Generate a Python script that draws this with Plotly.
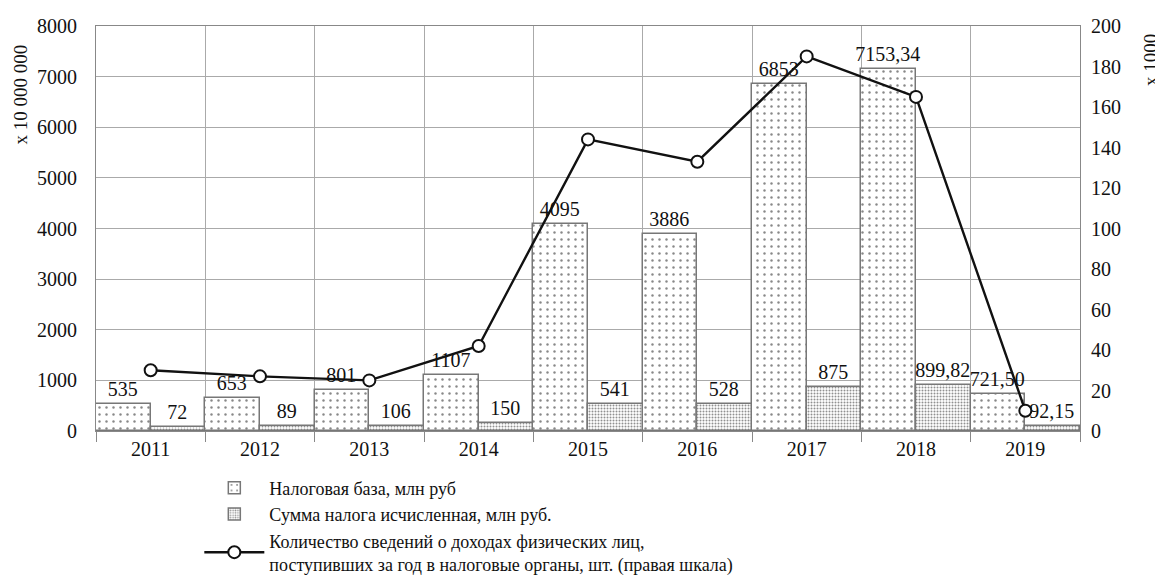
import plotly.graph_objects as go

years = ["2011", "2012", "2013", "2014", "2015", "2016", "2017", "2018", "2019"]
tax_base = [535, 653, 801, 1107, 4095, 3886, 6853, 7153.34, 721.50]
tax_base_labels = ["535", "653", "801", "1107", "4095", "3886", "6853", "7153,34", "721,50"]
tax_sum = [72, 89, 106, 150, 541, 528, 875, 899.82, 92.15]
tax_sum_labels = ["72", "89", "106", "150", "541", "528", "875", "899,82", "92,15"]
reports = [30, 27, 25, 42, 144, 133, 185, 165, 10]

pos = list(range(len(years)))
FONT = "Liberation Serif, Times New Roman, serif"

fig = go.Figure()
fig.add_trace(go.Bar(
    x=pos, y=tax_base, name="Налоговая база, млн руб",
    text=tax_base_labels, textposition="outside", cliponaxis=False, constraintext="none",
    textfont=dict(family=FONT, size=20, color="#111"),
    marker=dict(color="white", line=dict(color="#777", width=1.5),
                pattern=dict(shape=".", size=7, solidity=0.1, fgcolor="#111", bgcolor="white")),
    offsetgroup="a",
))
fig.add_trace(go.Bar(
    x=pos, y=tax_sum, name="Сумма налога исчисленная, млн руб.",
    text=tax_sum_labels, textposition="outside", cliponaxis=False, constraintext="none",
    textfont=dict(family=FONT, size=20, color="#111"),
    marker=dict(color="white", line=dict(color="#777", width=1.5),
                pattern=dict(shape=".", size=3, solidity=0.35, fgcolor="#222", bgcolor="white")),
    offsetgroup="b",
))
fig.add_trace(go.Scatter(
    x=pos, y=reports, yaxis="y2", mode="lines+markers", cliponaxis=False,
    name="Количество сведений о доходах физических лиц,<br>поступивших за год в налоговые органы, шт. (правая шкала)",
    line=dict(color="#111", width=2.4),
    marker=dict(symbol="circle", size=12, color="white", line=dict(color="#111", width=2)),
))

fig.update_layout(
    width=1163, height=576,
    margin=dict(l=88, r=91, t=18, b=153, autoexpand=False),
    paper_bgcolor="white", plot_bgcolor="white",
    barmode="group", bargap=0, bargroupgap=0,
    font=dict(family=FONT, size=18, color="#111"),
    xaxis=dict(
        range=[-0.5, 8.5], tickvals=pos, ticktext=years,
        showgrid=False, ticks="", zeroline=False,
        showline=True, linecolor="#888", linewidth=1, mirror=True,
        tickfont=dict(family=FONT, size=20),
        minor=dict(tickvals=[p - 0.5 for p in pos] + [8.5], showgrid=True,
                   gridcolor="#aaa", gridwidth=1, ticks="outside", ticklen=10, tickcolor="#888"),
    ),
    yaxis=dict(
        range=[0, 8000], dtick=1000, showgrid=True, gridcolor="#aaa", gridwidth=1,
        zeroline=False, showline=True, linecolor="#888", mirror=True,
        tickfont=dict(family=FONT, size=20), ticks="", ticklabelstandoff=14,
    ),
    yaxis2=dict(
        overlaying="y", side="right", range=[0, 200], dtick=20, showgrid=False,
        zeroline=False, tickfont=dict(family=FONT, size=20), ticklabelstandoff=10,
    ),
    legend=dict(
        x=0.105, y=-0.095, xanchor="left", yanchor="top",
        orientation="v", font=dict(family=FONT, size=18), tracegroupgap=2,
        itemwidth=60, bgcolor="rgba(0,0,0,0)",
    ),
    annotations=[
        dict(text="x 10 000 000", xref="paper", yref="paper", x=-0.077, y=0.96,
             xanchor="center", yanchor="top", textangle=-90, showarrow=False,
             font=dict(family=FONT, size=19)),
        dict(text="x 1000", xref="paper", yref="paper", x=1.071, y=0.985,
             xanchor="center", yanchor="top", textangle=-90, showarrow=False,
             font=dict(family=FONT, size=19)),
    ],
)

fig.write_html("out.html")
